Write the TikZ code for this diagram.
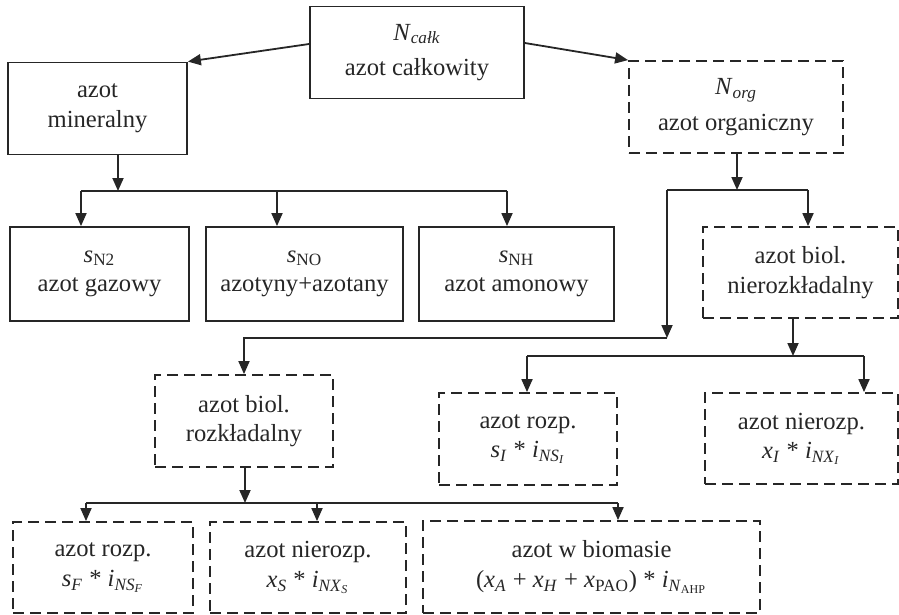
\documentclass[tikz,border=0pt]{standalone}
\usepackage{fontspec}
\setmainfont{Liberation Serif}
\usetikzlibrary{arrows.meta}

\begin{document}
\begin{tikzpicture}[x=0.5pt,y=-0.5pt,color=black!85]
		\tikzstyle{blok}=[minimum height=46pt,draw,line width=0.9pt,inner sep=0pt,align=center,font=\fontsize{12.3}{14.8}\selectfont]
		\tikzstyle{blok_przer}=[blok,dash pattern=on 5.5pt off 3pt]
		\tikzstyle{strzalka}=[line width=0.9pt,-{Triangle[length=6.5pt,width=5.5pt]}]
		\useasboundingbox (0,0) rectangle (899,615);
		\node[blok,minimum width=107pt] (calk) at (417,52.5) {\textit{N}\textsubscript{\textit{całk}}\\[3pt]azot całkowity}; % gora
		\node[blok,minimum width=89.5pt] (miner) at (97.5,108.5) {azot\\mineralny};
		\node[blok_przer,minimum width=107pt] (org) at (736,107) {\textit{N}\textsubscript{\textit{org}}\\[3pt]azot organiczny};
		\node[blok,minimum width=89.5pt,minimum height=47pt] (sN2) at (99.5,274) {\textit{s}\textsubscript{N2}\\azot gazowy};
		\node[blok,minimum width=98.5pt,minimum height=47pt] (sNO) at (304.5,274) {\textit{s}\textsubscript{NO}\\azotyny+azotany};
		\node[blok,minimum width=97.5pt,minimum height=47pt] (sNH) at (516.5,274) {\textit{s}\textsubscript{NH}\\azot amonowy};
		\node[blok_przer,minimum width=97.5pt,minimum height=45.5pt] (nrozkl) at (800.5,272.5) {azot biol.\\nierozkładalny};
		\node[blok_przer,minimum width=89pt] (rozkl) at (244,421) {azot biol.\\rozkładalny};
		\node[blok_przer,minimum width=89pt] (rozpI) at (528,439) {azot rozp.\\\textit{s}\textsubscript{\textit{I}} * \textit{i}\textsubscript{\textit{NS}\textsubscript{\textit{I}}}};
		\node[blok_przer,minimum width=96.5pt,minimum height=45.5pt] (nrozpI) at (801.5,438.5) {azot nierozp.\\\textit{x}\textsubscript{\textit{I}} * \textit{i}\textsubscript{\textit{NX}\textsubscript{\textit{I}}}};
		\node[blok_przer,minimum width=90pt,minimum height=45.5pt] (rozpF) at (103,567.5) {azot rozp.\\\textit{s}\textsubscript{\textit{F}} * \textit{i}\textsubscript{\textit{NS}\textsubscript{\textit{F}}}}; % dol
		\node[blok_przer,minimum width=98pt,minimum height=45.5pt] (nrozpS) at (308,567.5) {azot nierozp.\\\textit{x}\textsubscript{\textit{S}} * \textit{i}\textsubscript{\textit{NX}\textsubscript{\textit{S}}}};
		\node[blok_przer,minimum width=168.5pt] (biom) at (591.5,567) {azot w biomasie\\(\textit{x}\textsubscript{\textit{A}} + \textit{x}\textsubscript{\textit{H}} + \textit{x}\textsubscript{PAO}) * \textit{i}\textsubscript{\textit{N}\textsubscript{AHP}}};
		% rozgalezienia
		\coordinate (m0) at (118,191);
		\coordinate (m1) at (81,191);
		\coordinate (m2) at (277,191);
		\coordinate (m3) at (507,191);
		\coordinate (o0) at (737,190);
		\coordinate (o1) at (667,190);
		\coordinate (o2) at (808,190);
		\coordinate (o3) at (667,338);
		\coordinate (n0) at (793,356);
		\coordinate (n1) at (527,356);
		\coordinate (n2) at (864,356);
		\coordinate (r0) at (245,503);
		\coordinate (r1) at (86,503);
		\coordinate (r2) at (317,503);
		\coordinate (r3) at (618,503);
		\draw[strzalka] ([yshift=4.25pt]calk.west) -- (miner.north east);
		\draw[strzalka] ([yshift=4.75pt]calk.east) -- (org.north west);
		\draw[strzalka] (miner.south -| m0) -- (m0);
		\draw[line width=0.9pt] (m1) -- (m3);
		\draw[strzalka] (m1) -- (m1 |- sN2.north);
		\draw[strzalka] (m2) -- (m2 |- sNO.north);
		\draw[strzalka] (m3) -- (m3 |- sNH.north);
		\draw[strzalka] (org.south -| o0) -- (o0);
		\draw[line width=0.9pt] (o1) -- (o2);
		\draw[strzalka] (o2) -- (o2 |- nrozkl.north);
		\draw[strzalka] (o1) -- (o3);
		\draw[strzalka] (o3) -| (rozkl.north);
		\draw[strzalka] (nrozkl.south -| n0) -- (n0);
		\draw[line width=0.9pt] (n1) -- (n2);
		\draw[strzalka] (n1) -- (n1 |- rozpI.north);
		\draw[strzalka] (n2) -- (n2 |- nrozpI.north);
		\draw[strzalka] (rozkl.south -| r0) -- (r0);
		\draw[line width=0.9pt] (r1) -- (r3);
		\draw[strzalka] (r1) -- (r1 |- rozpF.north);
		\draw[strzalka] (r2) -- (r2 |- nrozpS.north);
		\draw[strzalka] (r3) -- (r3 |- biom.north);
	\end{tikzpicture}
\end{document}
